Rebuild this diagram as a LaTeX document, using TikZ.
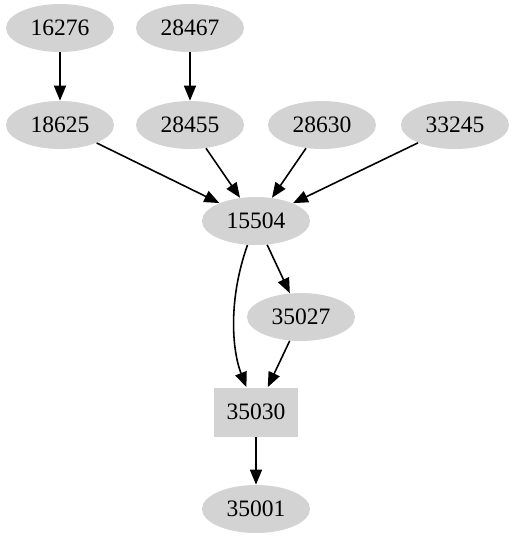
\documentclass[tikz,border=0pt]{standalone}
\usepackage{fontspec}
\setmainfont{Liberation Serif}
\usepackage{tikz}
\usetikzlibrary{arrows.meta,shapes.geometric}
\definecolor{nodegray}{RGB}{211,211,211}
\tikzset{
    ell/.style={ellipse, fill=nodegray, minimum width=2.16cm, minimum height=0.96cm,
    	inner sep=0pt, font=\fontsize{13.4}{16}\selectfont}
}
\tikzset{
    box/.style={rectangle, fill=nodegray, minimum width=1.68cm, minimum height=0.98cm,
    	inner sep=0pt, font=\fontsize{13.4}{16}\selectfont}
}
\tikzset{
    every edge/.append style={line width=0.9pt, -{Triangle[length=0.3cm,width=0.24cm]}}
}

\begin{document}
\begin{tikzpicture}[x=0.02cm, y=-0.02cm]
  \useasboundingbox (0,0) rectangle (514,539);
  \node (16276) [ell] at (60, 28) {16276};
  \node (28467) [ell] at (190, 28) {28467};
  \node (18625) [ell] at (60, 125) {18625};
  \node (28455) [ell] at (190, 125) {28455};
  \node (28630) [ell] at (322, 125) {28630};
  \node (33245) [ell] at (455, 125) {33245};
  \node (15504) [ell] at (256, 221) {15504};
  \node (35027) [ell] at (301, 317) {35027};
  \node (35030) [box] at (256, 412) {35030};
  \node (35001) [ell] at (256, 509) {35001};
  
  \draw (16276) edge (18625); \draw (28467) edge (28455);
  \draw (18625) edge (15504); \draw (28455) edge (15504);
  \draw (28630) edge (15504); \draw (33245) edge (15504);
  \draw (15504) edge (35027); \draw (35027) edge (35030);
  \draw (35030) edge (35001);
  \draw (15504) edge [to path={.. controls (228,300) and (232,350) .. (\tikztotarget)}] (35030);
\end{tikzpicture}
\end{document}
